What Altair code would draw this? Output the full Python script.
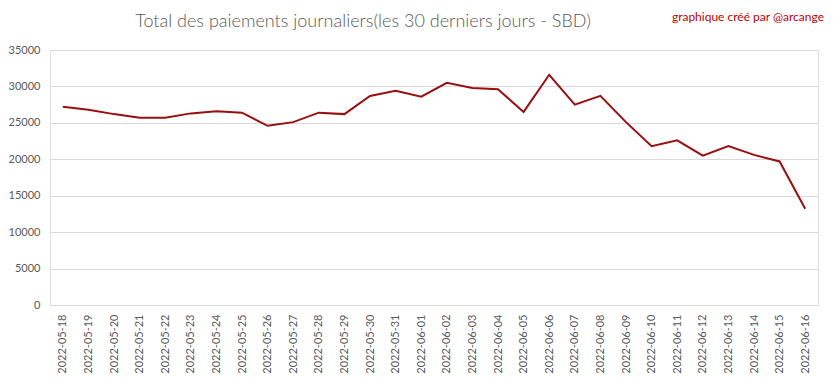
import altair as alt
import pandas as pd

dates = [
    "2022-05-18", "2022-05-19", "2022-05-20", "2022-05-21", "2022-05-22",
    "2022-05-23", "2022-05-24", "2022-05-25", "2022-05-26", "2022-05-27",
    "2022-05-28", "2022-05-29", "2022-05-30", "2022-05-31", "2022-06-01",
    "2022-06-02", "2022-06-03", "2022-06-04", "2022-06-05", "2022-06-06",
    "2022-06-07", "2022-06-08", "2022-06-09", "2022-06-10", "2022-06-11",
    "2022-06-12", "2022-06-13", "2022-06-14", "2022-06-15", "2022-06-16",
]
payouts = [
    27200, 26800, 26200, 25700, 25700,
    26300, 26600, 26400, 24600, 25100,
    26400, 26200, 28700, 29400, 28600,
    30500, 29800, 29600, 26500, 31600,
    27500, 28700, 25100, 21800, 22600,
    20500, 21800, 20600, 19700, 13200,
]
y_ticks = [0, 5000, 10000, 15000, 20000, 25000, 30000, 35000]

title_text = "Total des paiements journaliers(les 30 derniers jours - SBD)"
credit_text = "graphique créé par @arcange"

df = pd.DataFrame({"date": dates, "value": payouts})

FONT = "Lato"

line = alt.Chart(df).mark_line(color="#990F0F", strokeWidth=2).encode(
    x=alt.X("date:O", sort=None, title=None,
            axis=alt.Axis(labelAngle=-90, labelFontSize=11, labelColor="#595959",
                          labelFont=FONT, ticks=False, domain=False, grid=False,
                          labelPadding=9)),
    y=alt.Y("value:Q", title=None,
            scale=alt.Scale(domain=[0, 35000], nice=False),
            axis=alt.Axis(values=y_ticks, format="d", labelFontSize=11, labelColor="#595959",
                          labelFont=FONT, ticks=False, domain=False,
                          gridColor="#D9D9D9", gridWidth=1, labelPadding=10)),
)

title = alt.Chart(pd.DataFrame({"t": [title_text]})).mark_text(
    fontSize=18, font=FONT, fontWeight=300, color="#595959", align="center", baseline="middle"
).encode(x=alt.value(313), y=alt.value(-28), text="t:N")

credit = alt.Chart(pd.DataFrame({"t": [credit_text]})).mark_text(
    fontSize=12, font=FONT, color="#C00000", align="right", baseline="middle"
).encode(x=alt.value(774), y=alt.value(-33), text="t:N")

chart = alt.layer(line, title, credit).properties(
    width=768, height=255,
    autosize=alt.AutoSizeParams(type="none"),
    padding={"left": 42, "top": 42, "right": 7, "bottom": 76},
).configure_view(stroke=None).configure(background="white")

chart.save("out.html", embed_options={"renderer": "svg", "actions": False})
